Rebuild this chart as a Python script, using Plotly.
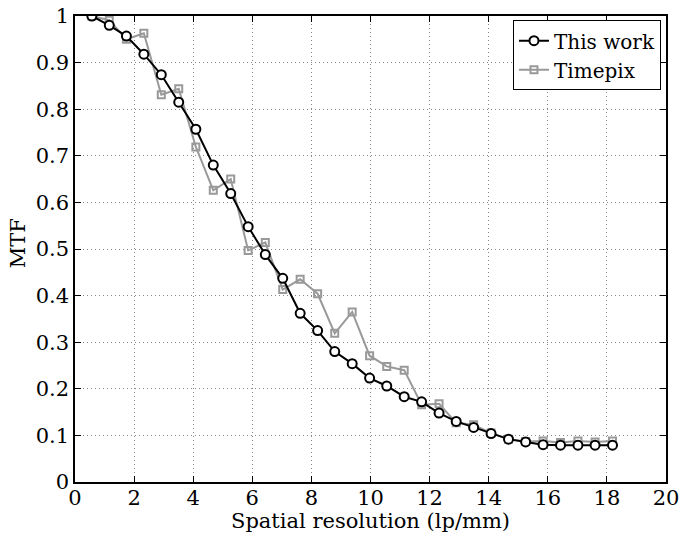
import plotly.graph_objects as go

spatial_res = [0.57, 1.16, 1.74, 2.33, 2.92, 3.51, 4.09, 4.68, 5.27, 5.86, 6.44, 7.03,
               7.62, 8.21, 8.79, 9.38, 9.97, 10.55, 11.14, 11.73, 12.32, 12.90, 13.49,
               14.08, 14.67, 15.25, 15.84, 16.43, 17.02, 17.60, 18.19]
mtf_this_work = [1.0, 0.980, 0.957, 0.918, 0.874, 0.815, 0.757, 0.680, 0.619, 0.548,
                 0.488, 0.437, 0.362, 0.325, 0.280, 0.254, 0.223, 0.206, 0.183, 0.172,
                 0.148, 0.130, 0.117, 0.104, 0.092, 0.086, 0.080, 0.079, 0.079, 0.079, 0.079]
mtf_timepix = [1.0, 0.991, 0.950, 0.963, 0.831, 0.844, 0.719, 0.626, 0.650, 0.497,
               0.514, 0.413, 0.435, 0.404, 0.319, 0.365, 0.271, 0.248, 0.240, 0.166,
               0.168, 0.127, 0.123, 0.105, 0.092, 0.087, 0.088, 0.085, 0.088, 0.086, 0.088]
x_ticks = [0, 2, 4, 6, 8, 10, 12, 14, 16, 18, 20]
y_ticks = [0, 0.1, 0.2, 0.3, 0.4, 0.5, 0.6, 0.7, 0.8, 0.9, 1]
x_title = "Spatial resolution (lp/mm)"
y_title = "MTF"

FONT = "DejaVu Serif"
FS = 21

fig = go.Figure()
fig.add_trace(go.Scatter(
    x=spatial_res, y=mtf_timepix, name="Timepix", mode="lines+markers",
    line=dict(color="#999999", width=2),
    marker=dict(symbol="square-open", size=7, color="#999999", line=dict(width=2)),
    legendrank=2,
))
fig.add_trace(go.Scatter(
    x=spatial_res, y=mtf_this_work, name="This work", mode="lines+markers",
    line=dict(color="black", width=2),
    marker=dict(symbol="circle", size=9, color="white", line=dict(color="black", width=2)),
    legendrank=1,
))

axis_common = dict(
    showline=True, linecolor="black", linewidth=1.5, mirror="ticks",
    ticks="inside", ticklen=6, tickcolor="black", tickwidth=1,
    showgrid=True, gridcolor="#888888", griddash="1px,3px", gridwidth=1,
    zeroline=False, tickfont=dict(family=FONT, size=FS, color="black"),
    automargin=False,
)

fig.update_xaxes(range=[0, 20], tickvals=x_ticks, ticklabelstandoff=-4, **axis_common)
fig.update_yaxes(range=[0, 1], tickvals=y_ticks, ticklabelstandoff=0, **axis_common)

fig.add_annotation(text=x_title, xref="paper", yref="paper", x=0.5, y=-0.083,
                   xanchor="center", yanchor="middle", showarrow=False,
                   font=dict(family=FONT, size=FS, color="black"))
fig.add_annotation(text=y_title, xref="paper", yref="paper", x=-0.095, y=0.512,
                   xanchor="center", yanchor="middle", showarrow=False, textangle=-90,
                   font=dict(family=FONT, size=FS, color="black"))

fig.update_layout(
    width=680, height=537,
    margin=dict(l=75, r=14, t=16, b=55),
    paper_bgcolor="white", plot_bgcolor="white",
    font=dict(family=FONT, color="black"),
    showlegend=True,
    legend=dict(x=0.9915, y=0.991, xanchor="right", yanchor="top",
                bgcolor="white", bordercolor="black", borderwidth=1,
                font=dict(family=FONT, size=20, color="black"),
                tracegroupgap=0, itemwidth=30),
)

fig.write_html("out.html", config={"displayModeBar": False},
               post_script="document.body.style.margin='0';document.body.style.overflow='hidden';")
